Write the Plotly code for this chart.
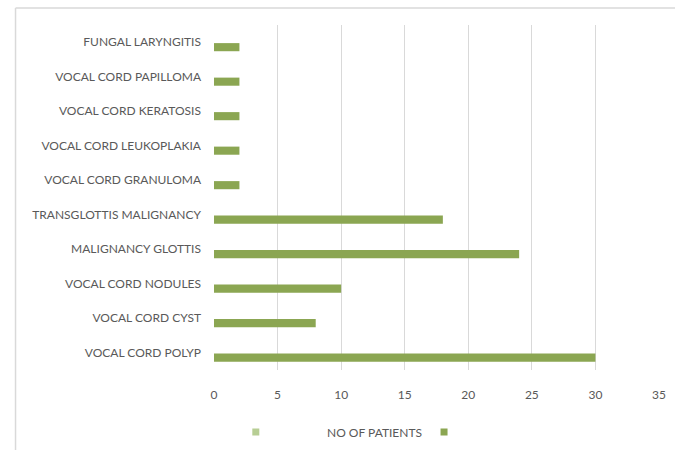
import plotly.graph_objects as go

categories = [
    "VOCAL CORD POLYP",
    "VOCAL CORD CYST",
    "VOCAL CORD NODULES",
    "MALIGNANCY GLOTTIS",
    "TRANSGLOTTIS MALIGNANCY",
    "VOCAL CORD GRANULOMA",
    "VOCAL CORD LEUKOPLAKIA",
    "VOCAL CORD KERATOSIS",
    "VOCAL CORD PAPILLOMA",
    "FUNGAL LARYNGITIS",
]
patients = [30, 8, 10, 24, 18, 2, 2, 2, 2, 2]
x_ticks = [0, 5, 10, 15, 20, 25, 30, 35]
legend_label = "NO OF PATIENTS"

DARK = "#8BA652"
LIGHT = "#B7CE94"
TXT = "#595959"
GRID = "#D9D9D9"
FONT = "Lato"
FS = 12

fig = go.Figure()
fig.add_trace(go.Bar(
    x=patients, y=categories, orientation="h",
    marker=dict(color=DARK, line=dict(width=0)),
    offset=-0.26, width=0.235,
    showlegend=False, hoverinfo="x+y",
))
# legend entries
fig.add_trace(go.Scatter(
    x=[None], y=[None], mode="markers",
    marker=dict(symbol="square", size=7, color=LIGHT),
    name="", legend="legend",
))
fig.add_trace(go.Scatter(
    x=[None], y=[None], mode="markers",
    marker=dict(symbol="square", size=7, color=DARK),
    name="", legend="legend2",
))

fig.update_layout(
    width=675, height=450,
    margin=dict(l=214, r=16, t=25, b=80, autoexpand=False),
    paper_bgcolor="white", plot_bgcolor="white",
    font=dict(family=FONT, size=FS, color=TXT),
    xaxis=dict(
        range=[0, 35], tickvals=x_ticks, showgrid=True, gridcolor=GRID,
        gridwidth=1, zeroline=False, showline=False, ticks="",
        ticklabelstandoff=16, tickfont=dict(size=FS, color=TXT),
        fixedrange=True, automargin=False,
    ),
    yaxis=dict(
        categoryorder="array", categoryarray=categories,
        range=[-0.5, len(categories) - 0.5],
        showgrid=False, zeroline=False, showline=False, ticks="",
        ticklabelstandoff=12, tickfont=dict(size=FS, color=TXT),
        fixedrange=True, automargin=False,
    ),
    legend=dict(x=0.049, y=-0.18, xanchor="left", yanchor="middle",
                orientation="h", bgcolor="rgba(0,0,0,0)",
                font=dict(size=FS, color=TXT)),
    legend2=dict(x=0.472, y=-0.18, xanchor="left", yanchor="middle",
                 orientation="h", bgcolor="rgba(0,0,0,0)",
                 font=dict(size=FS, color=TXT)),
    annotations=[dict(
        text=legend_label, x=0.36, y=-0.18, xref="paper", yref="paper",
        xanchor="center", yanchor="middle", showarrow=False,
        font=dict(size=FS, color=TXT, family=FONT),
    )],
    shapes=[
        dict(type="line", xref="paper", yref="paper",
             x0=-0.446, x1=1.05, y0=1.049, y1=1.049,
             line=dict(color=GRID, width=1.5)),
        dict(type="line", xref="paper", yref="paper",
             x0=-0.446, x1=-0.446, y0=1.049, y1=-0.25,
             line=dict(color=GRID, width=1.5)),
    ],
)

fig.write_html("out.html")
